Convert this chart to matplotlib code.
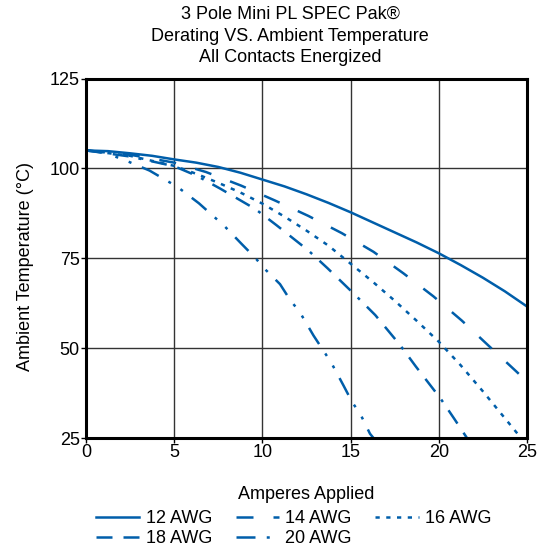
import matplotlib
matplotlib.use('Agg')
import matplotlib.pyplot as plt

plt.rcParams['font.family'] = ['Liberation Sans', 'DejaVu Sans']

# values (amperes, deg C)
amps_12 = [0, 1.25, 2.5, 3.75, 5, 6.25, 7.5, 8.75, 10, 11.25, 12.5, 13.75, 15,
           16.25, 17.5, 18.75, 20, 21.25, 22.5, 23.75, 25]
temp_12 = [105, 104.8, 104.2, 103.5, 102.5, 101.6, 100.4, 98.8, 96.9, 95.0, 92.8, 90.4, 87.8,
           85.0, 82.2, 79.4, 76.4, 73.1, 69.6, 65.8, 61.6]

amps_14 = [0, 2.5, 5, 6.8, 8.8, 10.7, 12.6, 14.5, 16.3, 18.0, 19.7, 21.3, 22.8, 24.4, 25]
temp_14 = [105, 103.8, 101.6, 99.0, 95.2, 91.1, 86.8, 82.0, 76.8, 70.8, 64.4, 57.7, 50.8, 43.5, 40.7]

amps_16 = [0, 2.5, 5, 6.25, 7.5, 8.75, 10, 11.25, 12.5, 13.75, 14.9, 16.25, 17.5,
           18.75, 20, 21.25, 22.5, 23.75, 24.6, 25]
temp_16 = [105, 103.5, 100.7, 98.5, 96.0, 93.3, 90.2, 86.6, 82.7, 78.5, 73.9, 68.5, 63.2,
           57.6, 51.8, 45.2, 38.0, 30.5, 25.4, 23.5]

amps_18 = [0, 2.5, 5, 6.3, 7.6, 9.6, 10.8, 12.6, 13.7, 15.3, 16.4, 17.8, 18.7, 20.1, 20.9, 21.6]
temp_18 = [105, 103.3, 100.6, 97.9, 94.4, 88.7, 84.2, 77.2, 72.2, 64.6, 59.2, 50.9, 44.9, 36.0, 30.2, 25]

amps_20 = [0, 1, 2.25, 3.6, 5.2, 6.4, 7.2, 7.8, 8.8, 9.6, 10.1, 11.0, 11.6, 12.1,
           12.9, 13.5, 13.9, 14.6, 15.1, 15.55, 16.1, 16.3]
temp_20 = [105, 104.5, 102.2, 99.4, 94.8, 90.3, 86.8, 84.2, 79.1, 75.1, 72.2, 67.8, 63.2, 60.2,
           53.5, 49.0, 46.0, 39.6, 34.9, 31.7, 26.2, 25]

labels = ['12 AWG', '14 AWG', '16 AWG', '18 AWG', '20 AWG']
xticks = [0, 5, 10, 15, 20, 25]
yticks = [25, 50, 75, 100, 125]

blue = '#005EAA'
lw = 1.8
fs = 13

fig = plt.figure(figsize=(5.41, 5.48), dpi=100)
ax = fig.add_axes([0.159, 0.2007, 0.815, 0.6560])

l12, = ax.plot(amps_12, temp_12, color=blue, lw=lw, label=labels[0])
l14, = ax.plot(amps_14, temp_14, color=blue, lw=lw, label=labels[1],
               dashes=(6.8, 8.0))
l16, = ax.plot(amps_16, temp_16, color=blue, lw=lw, label=labels[2],
               dashes=(1.7, 2.6))
l18, = ax.plot(amps_18, temp_18, color=blue, lw=lw, label=labels[3],
               dashes=(6.4, 4.4, 6.4, 4.0, 1.2, 4.0))
l20, = ax.plot(amps_20, temp_20, color=blue, lw=lw, label=labels[4],
               dashes=(7.6, 4.5, 1.2, 4.5, 1.2, 4.5))

ax.set_xlim(0, 25)
ax.set_ylim(25, 125)
ax.set_xticks(xticks)
ax.set_yticks(yticks)
ax.grid(True, color='#333333', lw=1.0)
ax.set_axisbelow(True)
for sp in ax.spines.values():
    sp.set_linewidth(2.2)
ax.tick_params(direction='out', length=3.5, width=1.0, labelsize=fs, pad=1)

ax.set_xlabel('Amperes Applied', fontsize=fs, labelpad=18)
ax.set_ylabel('Ambient Temperature (°C)', fontsize=fs)
ax.yaxis.set_label_coords(-0.117, 0.478)

fig.text(0.536, 0.934, '3 Pole Mini PL SPEC Pak®\nDerating VS. Ambient Temperature\nAll Contacts Energized',
         ha='center', va='center', fontsize=fs, linespacing=1.35)

fig.legend([l12, l18, l14, l20, l16],
           [labels[0], labels[3], labels[1], labels[4], labels[2]],
           ncol=3, frameon=False, loc='upper center', bbox_to_anchor=(0.543, 0.085),
           fontsize=fs, handlelength=2.4, handletextpad=0.35, columnspacing=1.3,
           labelspacing=0.15, borderpad=0)

fig.savefig('out.png', dpi=100)
